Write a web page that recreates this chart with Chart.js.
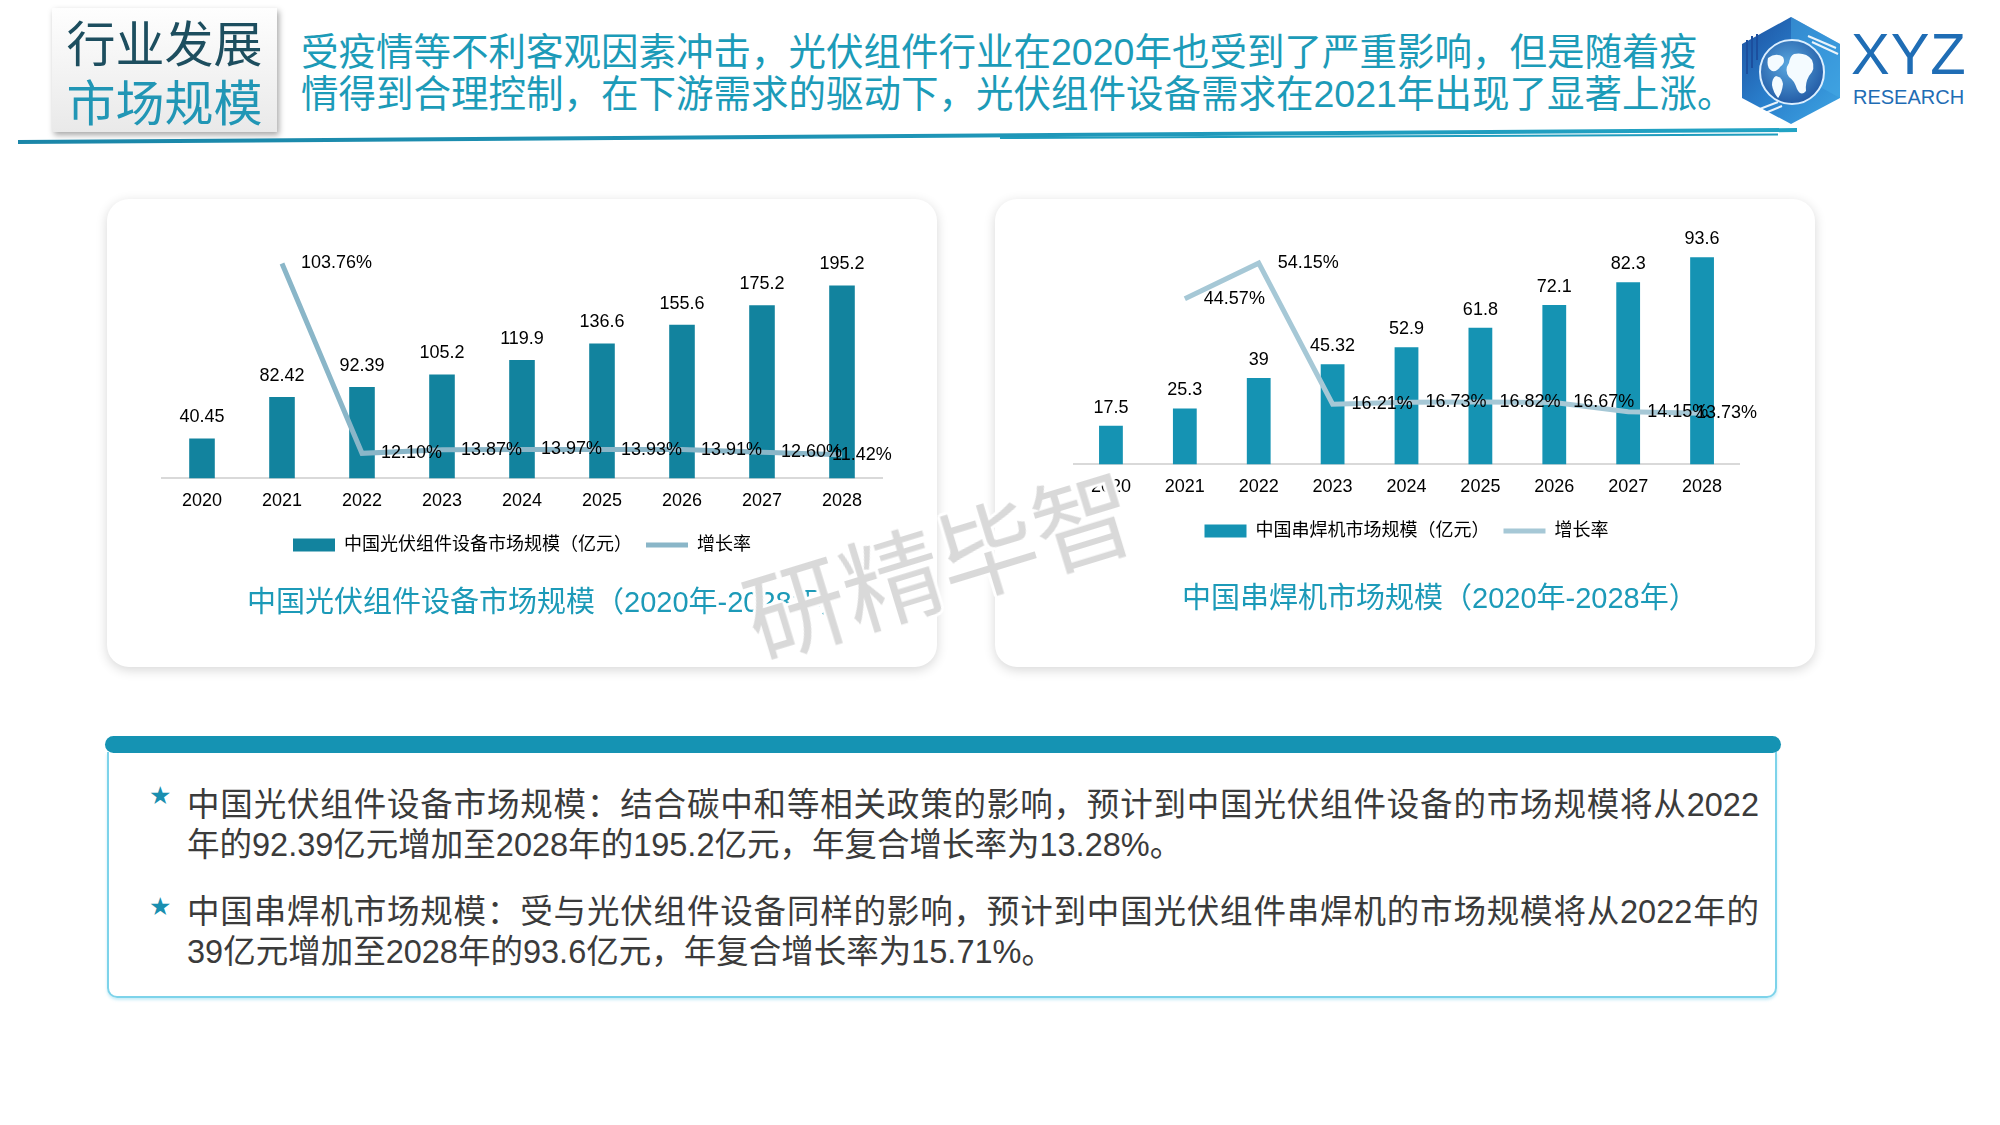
<!DOCTYPE html>
<html lang="zh-CN">
<head>
<meta charset="utf-8">
<title>行业发展 市场规模</title>
<script src="https://cdn.jsdelivr.net/npm/chart.js@4.4.0/dist/chart.umd.min.js"></script>
<style>
  html, body { margin: 0; padding: 0; background: #fff; }
  body { width: 2000px; height: 1125px; position: relative; overflow: hidden;
         font-family: "Liberation Sans", "Noto Sans CJK SC", sans-serif; }
  .abs { position: absolute; }
  .hbox { left: 52px; top: 8px; width: 225px; height: 124px;
          background: linear-gradient(#fefefe, #e9e9e9);
          box-shadow: 2px 3px 6px rgba(0,0,0,0.35); }
  .hbox div { font-family: "Noto Sans CJK SC", sans-serif; font-size: 49px; line-height: 59px;
              text-align: center; white-space: nowrap; }
  .htitle { left: 301px; top: 31px; font-family: "Liberation Sans", "Noto Sans CJK SC", sans-serif;
            font-size: 37.5px; line-height: 42px; color: #1c9bb8; white-space: nowrap; }
  .card { background: #fff; border-radius: 22px; box-shadow: 0 3px 12px rgba(0,0,0,0.16); }
  .ctitle { font-size: 29px; line-height: 34px; color: #1c9ab8; white-space: nowrap; }
  .tbar { left: 105px; top: 736px; width: 1676px; height: 17px; background: #1593b3; border-radius: 9px; }
  .tbox { left: 107px; top: 752px; width: 1666px; height: 244px; border: 2px solid #7dd3ea; border-top: none;
          border-radius: 0 0 10px 10px; box-shadow: 0 2px 3px rgba(91,200,232,0.35); }
  .para { left: 187px; width: 1572px; font-size: 32.5px; line-height: 40px; color: #3b3b3b; }
  .para div { white-space: nowrap; }
  .para .j { text-align: justify; text-align-last: justify; white-space: normal; }
  .star { font-family: "DejaVu Sans", sans-serif; font-size: 25px; line-height: 24px; color: #1a8fb0; }
  .wm { left: 938px; top: 560px; transform: translate(-50%, -50%) rotate(-17deg);
        font-family: "Noto Sans CJK SC", sans-serif; font-size: 100px; line-height: 100px; color: #d9d9d9;
        white-space: nowrap; z-index: 10;
        text-shadow: 3px 0 #fff, -3px 0 #fff, 0 3px #fff, 0 -3px #fff, 2px 2px #fff, -2px -2px #fff, 2px -2px #fff, -2px 2px #fff; }
</style>
</head>
<body>
<script>
// ---------- data ----------
const years = ['2020', '2021', '2022', '2023', '2024', '2025', '2026', '2027', '2028'];
const pvMarket = [40.45, 82.42, 92.39, 105.2, 119.9, 136.6, 155.6, 175.2, 195.2];
const pvGrowth = [null, 103.76, 12.10, 13.87, 13.97, 13.93, 13.91, 12.60, 11.42];
const swMarket = [17.5, 25.3, 39, 45.32, 52.9, 61.8, 72.1, 82.3, 93.6];
const swGrowth = [null, 44.57, 54.15, 16.21, 16.73, 16.82, 16.67, 14.15, 13.73];
const pvMarketName = '中国光伏组件设备市场规模（亿元）';
const swMarketName = '中国串焊机市场规模（亿元）';
const growthName = '增长率';
const pvTitle = '中国光伏组件设备市场规模（2020年-2028年）';
const swTitle = '中国串焊机市场规模（2020年-2028年）';
</script>

<!-- header -->
<div class="abs hbox">
  <div style="margin-top:3px;color:#1d4e5f;">行业发展</div>
  <div style="color:#2196b5;">市场规模</div>
</div>
<div class="abs htitle">受疫情等不利客观因素冲击，光伏组件行业在2020年也受到了严重影响，但是随着疫<br>情得到合理控制，在下游需求的驱动下，光伏组件设备需求在2021年出现了显著上涨。</div>

<svg class="abs" style="left:0;top:0" width="2000" height="150">
  <defs>
    <linearGradient id="ul" x1="0" y1="0" x2="1" y2="0">
      <stop offset="0" stop-color="#1b86a8"/><stop offset="1" stop-color="#22a3c4"/>
    </linearGradient>
  </defs>
  <line x1="18" y1="142" x2="1797" y2="130" stroke="url(#ul)" stroke-width="4"/>
  <line x1="1000" y1="138" x2="1778" y2="134.5" stroke="#1f9cbd" stroke-width="2"/>
</svg>

<!-- logo -->
<svg class="abs" style="left:1738px;top:14px" width="108" height="112" viewBox="0 0 108 112">
  <defs>
    <linearGradient id="hg" x1="0" y1="0" x2="1" y2="1">
      <stop offset="0" stop-color="#1c4f9e"/><stop offset="0.5" stop-color="#2a7fcc"/><stop offset="1" stop-color="#3fa6e3"/>
    </linearGradient>
    <radialGradient id="gg" cx="0.45" cy="0.4" r="0.7">
      <stop offset="0" stop-color="#5aa8e0"/><stop offset="1" stop-color="#1a4f9c"/>
    </radialGradient>
  </defs>
  <polygon points="53,3 102,30 102,84 53,110 4,84 4,30" fill="url(#hg)"/>
  <polygon points="53,3 102,30 102,84 53,57" fill="#43a9e6" opacity="0.5"/>
  <circle cx="54" cy="58" r="32" fill="url(#gg)" stroke="#dcefff" stroke-width="2"/>
  <path d="M56,40 q12,-2 18,6 q4,9 -3,16 q-4,7 -3,15 q-5,6 -9,-2 q-3,-9 -8,-12 q-5,-7 0,-14 q1,-7 5,-9z" fill="#f4fbff"/>
  <path d="M30,44 q8,-6 15,-1 q3,6 -3,10 q-3,5 -8,4 q-6,-3 -4,-13z" fill="#f4fbff"/>
  <path d="M38,62 q6,1 7,8 q-1,9 -5,14 q-5,-6 -6,-13 q0,-7 4,-9z" fill="#f4fbff"/>
  <g stroke="#fff" stroke-width="2" opacity="0.9">
    <line x1="70" y1="22" x2="98" y2="34"/><line x1="74" y1="28" x2="100" y2="40"/>
    <line x1="14" y1="98" x2="40" y2="88"/><line x1="20" y1="102" x2="44" y2="92"/>
  </g>
  <g stroke="#1c4f9e" stroke-width="2">
    <line x1="9" y1="26" x2="9" y2="60"/><line x1="14" y1="22" x2="14" y2="54"/><line x1="19" y1="20" x2="19" y2="46"/>
  </g>
</svg>
<div class="abs" style="left:1851px;top:23px;font-family:'Liberation Sans',sans-serif;font-size:58px;line-height:62px;color:#1f6db5;letter-spacing:1px;">XYZ</div>
<div class="abs" style="left:1853px;top:86px;font-family:'Liberation Sans',sans-serif;font-size:20px;line-height:22px;color:#1f6db5;">RESEARCH</div>

<!-- chart cards -->
<div class="abs card" style="left:107px;top:199px;width:830px;height:468px;"></div>
<div class="abs card" style="left:995px;top:199px;width:820px;height:468px;"></div>
<canvas id="c1" class="abs" style="left:107px;top:199px;" width="830" height="468"></canvas>
<canvas id="c2" class="abs" style="left:995px;top:199px;" width="820" height="468"></canvas>
<div id="t1" class="abs ctitle" style="left:247px;top:585px;"></div>
<div id="t2" class="abs ctitle" style="left:1182px;top:581px;"></div>

<!-- bottom text box -->
<div class="abs tbar"></div>
<div class="abs tbox"></div>
<div class="abs star" style="left:149px;top:784px;">★</div>
<div class="abs star" style="left:149px;top:895px;">★</div>
<div class="abs para" style="top:785px;">
  <div class="j">中国光伏组件设备市场规模：结合碳中和等相关政策的影响，预计到中国光伏组件设备的市场规模将从2022</div>
  <div>年的92.39亿元增加至2028年的195.2亿元，年复合增长率为13.28%。</div>
</div>
<div class="abs para" style="top:892px;">
  <div class="j">中国串焊机市场规模：受与光伏组件设备同样的影响，预计到中国光伏组件串焊机的市场规模将从2022年的</div>
  <div>39亿元增加至2028年的93.6亿元，年复合增长率为15.71%。</div>
</div>

<div class="abs wm">研精毕智</div>

<script>
document.getElementById('t1').textContent = pvTitle;
document.getElementById('t2').textContent = swTitle;

const FONT = '"Liberation Sans", "Noto Sans CJK SC", sans-serif';
Chart.defaults.font.family = FONT;
Chart.defaults.color = '#000';

const valueLabels = {
  id: 'valueLabels',
  afterDatasetsDraw(chart, args, opts) {
    const ctx = chart.ctx;
    ctx.save();
    ctx.font = '18px ' + FONT;
    ctx.fillStyle = '#000';
    chart.data.datasets.forEach((ds, i) => {
      const meta = chart.getDatasetMeta(i);
      const last = ds.data.length - 1;
      meta.data.forEach((el, j) => {
        const v = ds.data[j];
        if (v == null) return;
        ctx.textBaseline = 'middle';
        if (ds.type === 'line') {
          ctx.textAlign = 'left';
          const dx = j === last ? opts.lastDx : opts.lineDx;
          ctx.fillText(v.toFixed(2) + '%', el.x + dx, el.y);
        } else {
          ctx.textAlign = 'center';
          ctx.fillText(String(v), el.x, el.y - opts.barDy);
        }
      });
    });
    ctx.restore();
  }
};

function legendLabels(chart) {
  const items = Chart.defaults.plugins.legend.labels.generateLabels(chart);
  items.forEach(it => {
    const ds = chart.data.datasets[it.datasetIndex];
    if (ds.type === 'line') {
      it.pointStyle = 'line'; it.lineWidth = 5; it.strokeStyle = ds.borderColor; it.fillStyle = ds.borderColor;
    } else {
      it.pointStyle = 'rect'; it.lineWidth = 0; it.fillStyle = ds.backgroundColor; it.strokeStyle = ds.backgroundColor;
    }
  });
  return items.sort((a, b) => a.datasetIndex - b.datasetIndex);
}

function makeChart(id, cfg) {
  return new Chart(document.getElementById(id), {
    type: 'bar',
    data: {
      labels: years,
      datasets: [
        { type: 'bar', label: cfg.barName, data: cfg.bars, backgroundColor: cfg.barColor,
          barPercentage: cfg.barPct, categoryPercentage: 1, yAxisID: 'y', order: 1 },
        { type: 'line', label: growthName, data: cfg.line, borderColor: cfg.lineColor, backgroundColor: cfg.lineColor,
          borderWidth: 5, pointRadius: 0, tension: 0, yAxisID: 'y2', order: 0 }
      ]
    },
    options: {
      responsive: false, animation: false, devicePixelRatio: 1,
      layout: { padding: cfg.padding },
      scales: {
        x: { grid: { display: false, drawTicks: false },
             border: { display: true, color: '#d9d9d9', width: 2 },
             ticks: { color: '#000', font: { size: 18 }, padding: 12 },
             afterFit: s => { s.height -= 2; } },
        y: { display: false, min: 0, max: cfg.barMax },
        y2: { display: false, min: 0, max: cfg.lineMax, position: 'right' }
      },
      plugins: {
        legend: { position: 'bottom',
          labels: { usePointStyle: true, pointStyleWidth: 42, boxHeight: 13, color: '#000',
                    font: { size: 18 }, padding: 14, generateLabels: legendLabels } },
        tooltip: { enabled: false },
        valueLabels: { lineDx: 19, lastDx: cfg.lastDx, barDy: cfg.barDy }
      }
    },
    plugins: [valueLabels]
  });
}

makeChart('c1', {
  barName: pvMarketName, bars: pvMarket, line: pvGrowth,
  barColor: '#12839e', lineColor: '#8ab6c8', barPct: 0.32, lastDx: -10, barDy: 21,
  barMax: 235.2, lineMax: 112.2,
  padding: { top: 47, left: 55, right: 55, bottom: 103 }
});
makeChart('c2', {
  barName: swMarketName, bars: swMarket, line: swGrowth,
  barColor: '#1593b3', lineColor: '#a6c8d6', barPct: 0.322, lastDx: -6, barDy: 18,
  barMax: 105.5, lineMax: 62.8,
  padding: { top: 32, left: 79, right: 76, bottom: 117 }
});
</script>
</body>
</html>
